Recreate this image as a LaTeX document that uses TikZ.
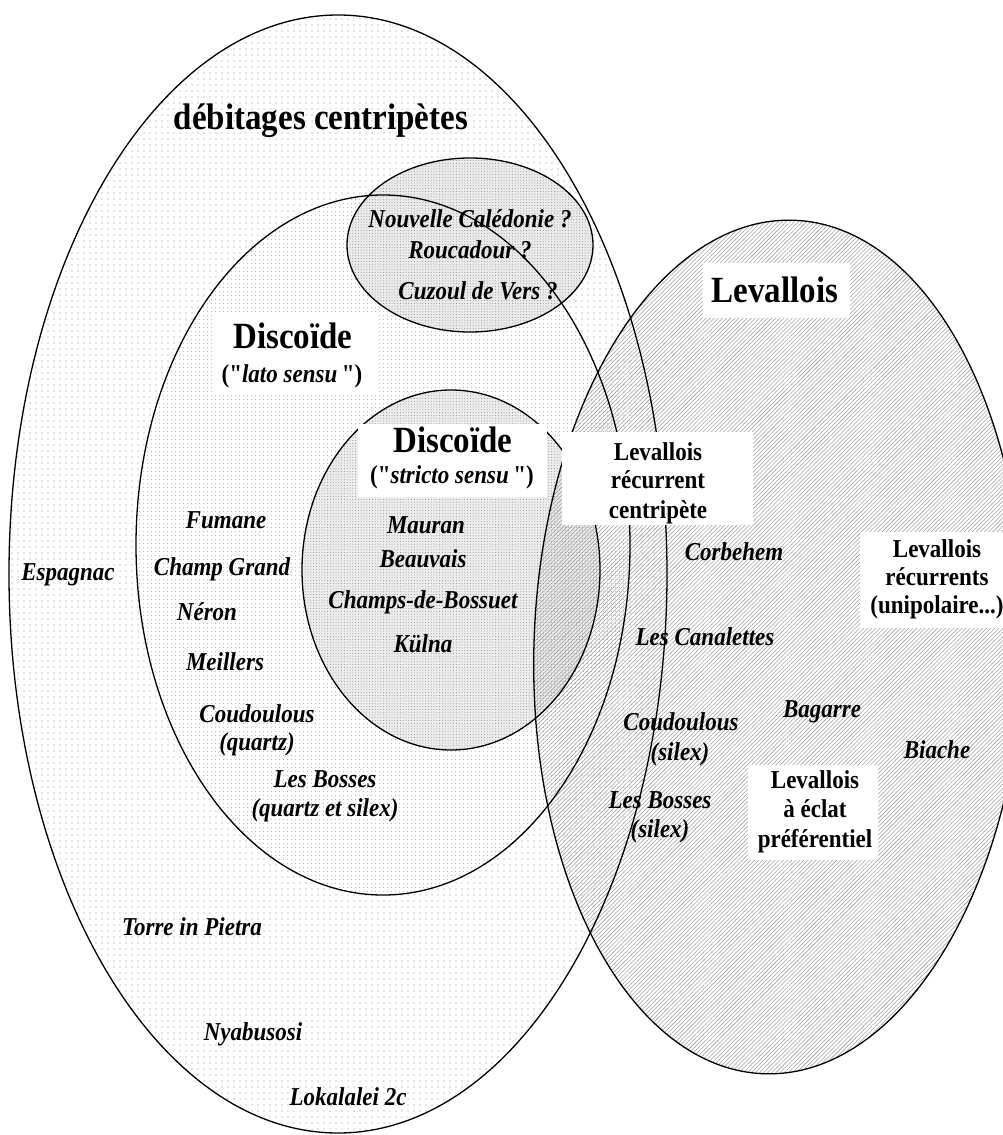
\documentclass[tikz,border=0pt]{standalone}
\usepackage{fontspec}
\setmainfont{Liberation Serif}[Ligatures=TeXOff]
\usepackage{graphicx}
\usetikzlibrary{patterns.meta}
\newcommand\V[1]{\scalebox{1}[1.12]{#1}}
\begin{document}
\begin{tikzpicture}[x=1pt,y=-1pt,
  outline/.style={line width=1.3pt},
  site/.style={anchor=base, inner sep=0pt, font=\fontsize{23}{27}\selectfont\bfseries\itshape},
  lbl/.style={anchor=base, inner sep=0pt, font=\fontsize{23}{27}\selectfont\bfseries},
  ttl/.style={anchor=base, inner sep=0pt, font=\fontsize{33}{38}\selectfont\bfseries},
  whitebox/.style={fill=white, draw=none},
  sparsedots/.style={pattern={Dots[distance=6pt, radius=0.55pt]}, pattern color=gray!85},
  densedots/.style={pattern={Dots[distance=4pt, radius=0.5pt]}, pattern color=gray!85},
  greydots/.style={pattern={Dots[distance=2.8pt, radius=0.5pt]}, pattern color=gray!90},
  hatch/.style={pattern={Lines[angle=45, distance=2.9pt, line width=0.55pt]}, pattern color=gray!75},
  levrot/.style={rotate around={-2:(779,647)}},
]
\useasboundingbox (0,0) rectangle (1003,1135);
\clip (0,0) rectangle (1003,1135);
% fills
\fill[white] (338,574) ellipse [x radius=329, y radius=559];
\fill[sparsedots] (338,574) ellipse [x radius=329, y radius=559];
\fill[white] (383,545) ellipse [x radius=247, y radius=350];
\fill[densedots] (383,545) ellipse [x radius=247, y radius=350];
\fill[gray!16] (470,245) ellipse [x radius=123, y radius=87];
\fill[greydots] (470,245) ellipse [x radius=123, y radius=87];
\fill[gray!14] (451,570) ellipse [x radius=149, y radius=180];
\fill[greydots] (451,570) ellipse [x radius=149, y radius=180];
\fill[hatch, levrot] (779,647) ellipse [x radius=245, y radius=427];
% outlines
\draw[outline] (338,574) ellipse [x radius=329, y radius=559];
\draw[outline] (383,545) ellipse [x radius=247, y radius=350];
\draw[outline] (470,245) ellipse [x radius=123, y radius=87];
\draw[outline] (451,570) ellipse [x radius=149, y radius=180];
\draw[outline, levrot] (779,647) ellipse [x radius=245, y radius=427];
% white label boxes
\fill[whitebox] (215,312) rectangle (378,392);
\fill[whitebox] (358,424) rectangle (547,497);
\fill[whitebox] (703,263) rectangle (850,318);
\fill[whitebox] (562,432) rectangle (753,525);
\fill[whitebox] (860,532) rectangle (1003,628);
\fill[whitebox] (748,765) rectangle (878,860);
% titles
\node[ttl] (deb) at (321,129) {\V{débitages centripètes}};
\node[ttl] (discL) at (293,348) {\V{Discoïde}};
\node[lbl] (discLs) at (292,382) {\V{("\textit{lato sensu}\hspace{0.2em}")}};
\node[ttl] (discS) at (453,452) {\V{Discoïde}};
\node[lbl] (discSs) at (452,483) {\V{("\textit{stricto sensu}\hspace{0.2em}")}};
\node[ttl] (lev) at (775,302) {\V{Levallois}};
% Levallois sub-labels
\node[lbl] (rc1) at (658,460) {\V{Levallois}};
\node[lbl] (rc2) at (658,488) {\V{récurrent}};
\node[lbl] (rc3) at (658,518) {\V{centripète}};
\node[lbl] (ru1) at (937,557) {\V{Levallois}};
\node[lbl] (ru2) at (937,585) {\V{récurrents}};
\node[lbl] (ru3) at (937,613) {\V{(unipolaire...)}};
\node[lbl] (ep1) at (815,788) {\V{Levallois}};
\node[lbl] (ep2) at (815,817) {\V{à éclat}};
\node[lbl] (ep3) at (815,847) {\V{préférentiel}};
% Nouvelle Caledonie group
\node[site] (nc1) at (470,227) {\V{Nouvelle Calédonie ?}};
\node[site] (nc2) at (470,258) {\V{Roucadour ?}};
\node[site] (nc3) at (478,299) {\V{Cuzoul de Vers ?}};
% stricto sensu sites
\node[site] (s1) at (426,533) {\V{Mauran}};
\node[site] (s2) at (423,567) {\V{Beauvais}};
\node[site] (s3) at (423,608) {\V{Champs-de-Bossuet}};
\node[site] (s4) at (423,652) {\V{Külna}};
% lato sensu sites
\node[site] (l1) at (226,528) {\V{Fumane}};
\node[site] (l2) at (222,575) {\V{Champ Grand}};
\node[site] (l3) at (207,620) {\V{Néron}};
\node[site] (l4) at (225,670) {\V{Meillers}};
\node[site] (l5) at (257,722) {\V{Coudoulous}};
\node[site] (l6) at (257,750) {\V{(quartz)}};
\node[site] (l7) at (325,787) {\V{Les Bosses}};
\node[site] (l8) at (325,816) {\V{(quartz et silex)}};
% centripetal sites
\node[site] (c1) at (68,580) {\V{Espagnac}};
\node[site] (c2) at (192,935) {\V{Torre in Pietra}};
\node[site] (c3) at (253,1040) {\V{Nyabusosi}};
\node[site] (c4) at (348,1105) {\V{Lokalalei 2c}};
% Levallois sites
\node[site] (v1) at (734,560) {\V{Corbehem}};
\node[site] (v2) at (705,645) {\V{Les Canalettes}};
\node[site] (v3) at (681,730) {\V{Coudoulous}};
\node[site] (v4) at (680,760) {\V{(silex)}};
\node[site] (v5) at (660,808) {\V{Les Bosses}};
\node[site] (v6) at (660,837) {\V{(silex)}};
\node[site] (v7) at (822,717) {\V{Bagarre}};
\node[site] (v8) at (937,758) {\V{Biache}};
\end{tikzpicture}
\end{document}
